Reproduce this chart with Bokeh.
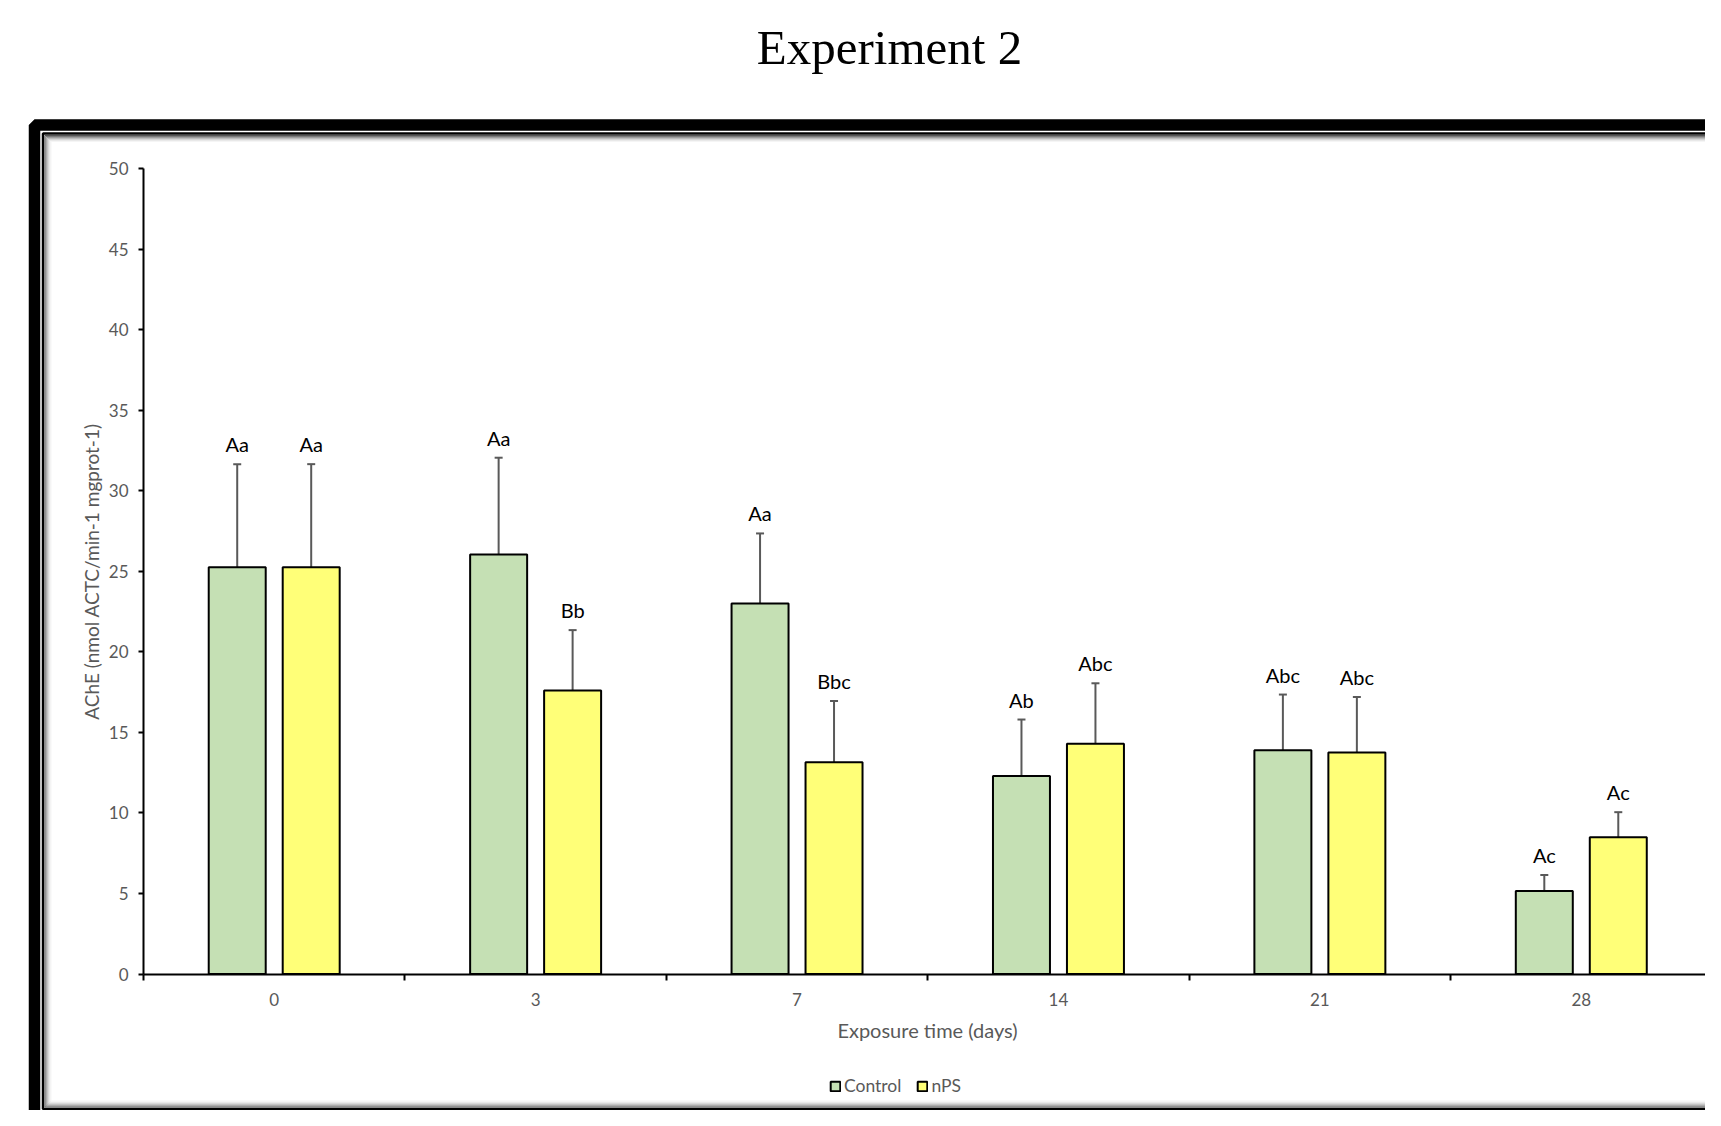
import math
import numpy as np
from bokeh.plotting import figure
from bokeh.models import (ColumnDataSource, Range1d, FixedTicker, Whisker, TeeHead,
                          Legend, LegendItem, Label, BoxAnnotation)
from bokeh.core.properties import value
from bokeh.embed import file_html
from bokeh.resources import INLINE

# ---------------- data ----------------
days = ["0", "3", "7", "14", "21", "28"]
control_mean = [25.25, 26.05, 23.0, 12.3, 13.9, 5.15]
control_err = [6.4, 6.0, 4.35, 3.5, 3.45, 1.0]
nps_mean = [25.25, 17.6, 13.15, 14.3, 13.75, 8.5]
nps_err = [6.4, 3.75, 3.8, 3.75, 3.45, 1.55]
control_letters = ["Aa", "Aa", "Aa", "Ab", "Abc", "Ac"]
nps_letters = ["Aa", "Bb", "Bbc", "Abc", "Abc", "Ac"]
y_ticks = list(range(0, 51, 5))

# ---------------- layout / style ----------------
GRAY = "#595959"
FONT = "Lato"
OFF = 0.1415
BAR_W = 0.218
W, H = 1705, 1110
# target canvas pixels of the chart area (axis rectangle)
A_L, A_R, A_T, A_B = 143.0, 1711.5, 168.0, 973.6

n = len(days)
y_max = y_ticks[-1]
px_x = (A_R - A_L) / n
px_y = (A_B - A_T) / y_max
x_range = Range1d(-A_L / px_x, n + (W - A_R) / px_x)
y_range = Range1d(-(H - A_B) / px_y, y_max + A_T / px_y)

centers = np.arange(n) + 0.5
src_c = ColumnDataSource(dict(x=centers - OFF, top=control_mean,
                              upper=np.add(control_mean, control_err), lab=control_letters))
src_n = ColumnDataSource(dict(x=centers + OFF, top=nps_mean,
                              upper=np.add(nps_mean, nps_err), lab=nps_letters))

p = figure(width=W, height=H, x_range=x_range, y_range=y_range,
           output_backend="svg", toolbar_location=None, min_border=0)
p.title.visible = False
p.outline_line_color = None
p.xgrid.visible = False
p.ygrid.visible = False
p.background_fill_color = "white"
p.border_fill_color = "white"

r_c = p.vbar(x="x", top="top", width=BAR_W, source=src_c, fill_color="#C5E0B4",
             line_color="black", line_width=2)
r_n = p.vbar(x="x", top="top", width=BAR_W, source=src_n, fill_color="#FFFF78",
             line_color="black", line_width=2)

for src in (src_c, src_n):
    w = Whisker(base="x", lower="top", upper="upper", source=src, dimension="height",
                line_color=GRAY, line_width=2, lower_head=None,
                upper_head=TeeHead(size=8, line_color=GRAY, line_width=2))
    p.add_layout(w)
    p.text(x="x", y="upper", text="lab", source=src, text_align="center",
           text_baseline="bottom", y_offset=-8, text_font=value(FONT),
           text_font_size="20px", text_color="black")

# x axis: fixed at y=0, labels at category centers, boundary ticks as minor ticks
xa = p.xaxis[0]
xa.fixed_location = 0
xa.bounds = (0, n)
xa.ticker = FixedTicker(ticks=[float(c) for c in centers],
                        minor_ticks=[float(i) for i in range(n + 1)])
xa.major_label_overrides = {float(c): d for c, d in zip(centers, days)}
xa.major_tick_out = 0
xa.major_tick_in = 0
xa.minor_tick_out = 6
xa.minor_tick_in = 0
xa.minor_tick_line_color = "black"
xa.minor_tick_line_width = 2
xa.major_label_standoff = 13

ya = p.yaxis[0]
ya.fixed_location = 0
ya.bounds = (0, y_max)
ya.ticker = FixedTicker(ticks=y_ticks, minor_ticks=[])
ya.major_tick_out = 5
ya.major_tick_in = 0
ya.major_tick_line_color = "black"
ya.major_tick_line_width = 2
ya.minor_tick_line_color = None
ya.major_label_standoff = 10

for ax in (xa, ya):
    ax.axis_line_color = "black"
    ax.axis_line_width = 2
    ax.major_label_text_font = FONT
    ax.major_label_text_font_size = "17px"
    ax.major_label_text_color = GRAY

# axis titles
p.add_layout(Label(x=927, y=1029, x_units="canvas", y_units="canvas",
                   text="Exposure time (days)", text_font=FONT, text_font_size="20px",
                   text_color=GRAY, text_align="center", text_baseline="middle"))
p.add_layout(Label(x=90.5, y=571, x_units="canvas", y_units="canvas",
                   text="AChE (nmol ACTC/min-1 mgprot-1)", text_font=FONT,
                   text_font_size="19px", text_color=GRAY, angle=math.pi / 2,
                   text_align="center", text_baseline="middle"))

legend = Legend(items=[LegendItem(label="Control", renderers=[r_c]),
                       LegendItem(label="nPS", renderers=[r_n])],
                orientation="horizontal", location=(829, 14),
                glyph_width=12, glyph_height=12, label_height=12,
                label_standoff=3, spacing=15, padding=0, margin=0,
                border_line_color=None, background_fill_alpha=0,
                label_text_font=FONT, label_text_font_size="17.5px",
                label_text_color=GRAY, label_text_baseline="middle")
p.add_layout(legend)

# title
p.add_layout(Label(x=889, y=46.5, x_units="canvas", y_units="canvas", text="Experiment 2",
                   text_font="Liberation Serif", text_font_size="49px",
                   text_align="center", text_baseline="middle", text_color="black"))

# decorative frame
def box(left, top, bottom, color, width):
    p.add_layout(BoxAnnotation(left=left, right=W + 200, top=top, bottom=bottom,
                               left_units="canvas", right_units="canvas",
                               top_units="canvas", bottom_units="canvas",
                               fill_color=None, fill_alpha=0, line_color=color,
                               line_alpha=1.0, line_width=width))

box(34, 124.5, H + 200, "black", 11.5)
box(42.5, 133, H - 1.5, "black", 2.5)
shades = ["#555555", "#7a7a7a", "#9c9c9c", "#bababa", "#d4d4d4", "#e8e8e8", "#f5f5f5"]
for k, c in enumerate(shades):
    box(44.5 + k, 135 + k, H - 3.5 - k, c, 1)

open("out.html", "w").write(file_html(p, INLINE))
